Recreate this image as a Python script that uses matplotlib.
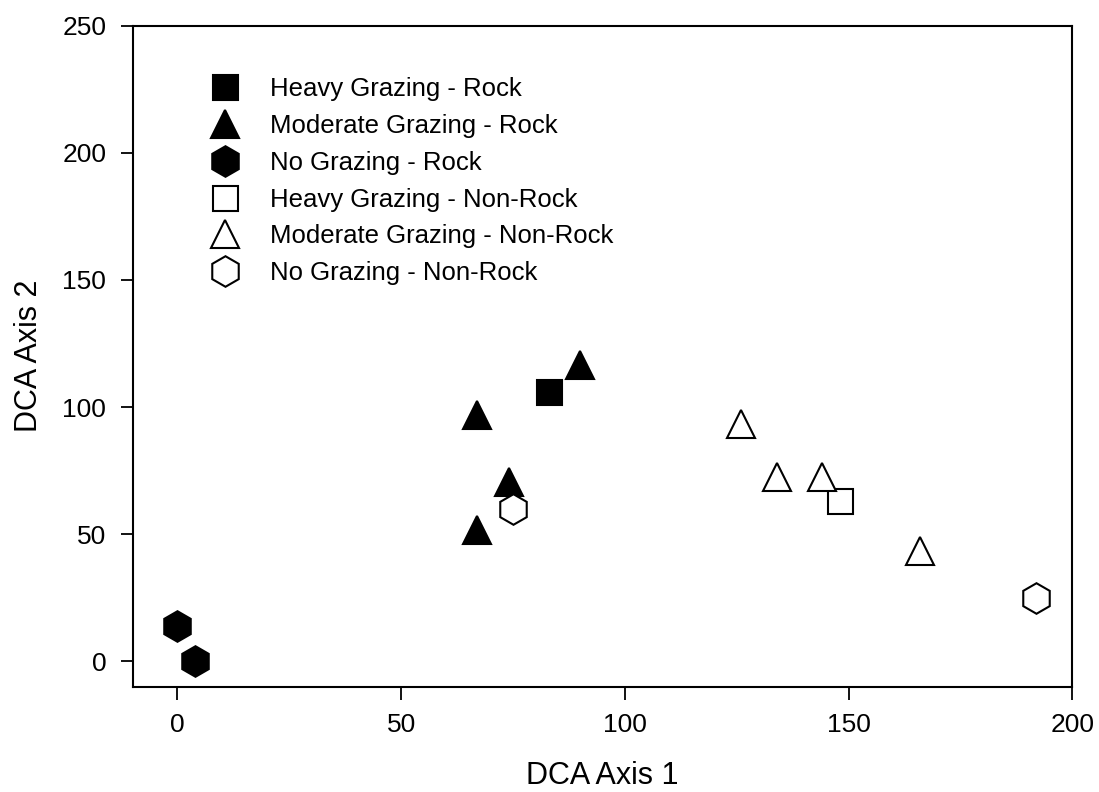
#!/usr/bin/env python3

import matplotlib
matplotlib.use("Agg")
import matplotlib.pyplot as plt
from matplotlib.lines import Line2D

# DCA scores
heavy_rock_x = [83]
heavy_rock_y = [106]
mod_rock_x = [67, 74, 67, 90]
mod_rock_y = [97, 70.5, 51.5, 116.5]
no_rock_x = [0, 4]
no_rock_y = [14, 0]
heavy_non_x = [148]
heavy_non_y = [63]
mod_non_x = [126, 134, 144, 166]
mod_non_y = [93.5, 72.5, 72.5, 43.5]
no_non_x = [75, 192]
no_non_y = [59.7, 25]

labels = ["Heavy Grazing - Rock", "Moderate Grazing - Rock", "No Grazing - Rock",
          "Heavy Grazing - Non-Rock", "Moderate Grazing - Non-Rock", "No Grazing - Non-Rock"]


def main():
	plt.rcParams['font.family'] = ['Liberation Sans', 'DejaVu Sans']

	fig = plt.figure(figsize=(10.99, 7.92), dpi=100)
	ax = fig.add_axes([0.1207, 0.133, 0.855, 0.8345])

	series = [
		(heavy_rock_x, heavy_rock_y, 's', 'black', 18),
		(mod_rock_x, mod_rock_y, '^', 'black', 20),
		(no_rock_x, no_rock_y, 'h', 'black', 22),
		(heavy_non_x, heavy_non_y, 's', 'white', 18),
		(mod_non_x, mod_non_y, '^', 'white', 20),
		(no_non_x, no_non_y, 'h', 'white', 22),
	]
	handles = []
	for (x, y, m, fc, ms), lab in zip(series, labels):
		ax.plot(x, y, linestyle='none', marker=m, markersize=ms,
				markerfacecolor=fc, markeredgecolor='black', markeredgewidth=1.5)
		handles.append(Line2D([], [], linestyle='none', marker=m, markersize=ms,
				markerfacecolor=fc, markeredgecolor='black', markeredgewidth=1.5))

	ax.set_xlim(-10, 200)
	ax.set_ylim(-10, 250)
	ax.set_xticks([0, 50, 100, 150, 200])
	ax.set_yticks([0, 50, 100, 150, 200, 250])
	ax.tick_params(direction='out', length=9, width=1.3, labelsize=19, pad=10,
				   top=False, right=False)
	for sp in ax.spines.values():
		sp.set_linewidth(1.5)

	ax.set_xlabel("DCA Axis 1", fontsize=22, labelpad=17)
	ax.set_ylabel("DCA Axis 2", fontsize=22, labelpad=13)

	ax.legend(handles, labels, loc='upper left', bbox_to_anchor=(0.0705, 0.9225),
			  frameon=False, fontsize=18.5, handletextpad=0.78, labelspacing=0.5,
			  borderaxespad=0, borderpad=0)

	fig.savefig("out.png", dpi=100)


if __name__ == "__main__":
    main()
